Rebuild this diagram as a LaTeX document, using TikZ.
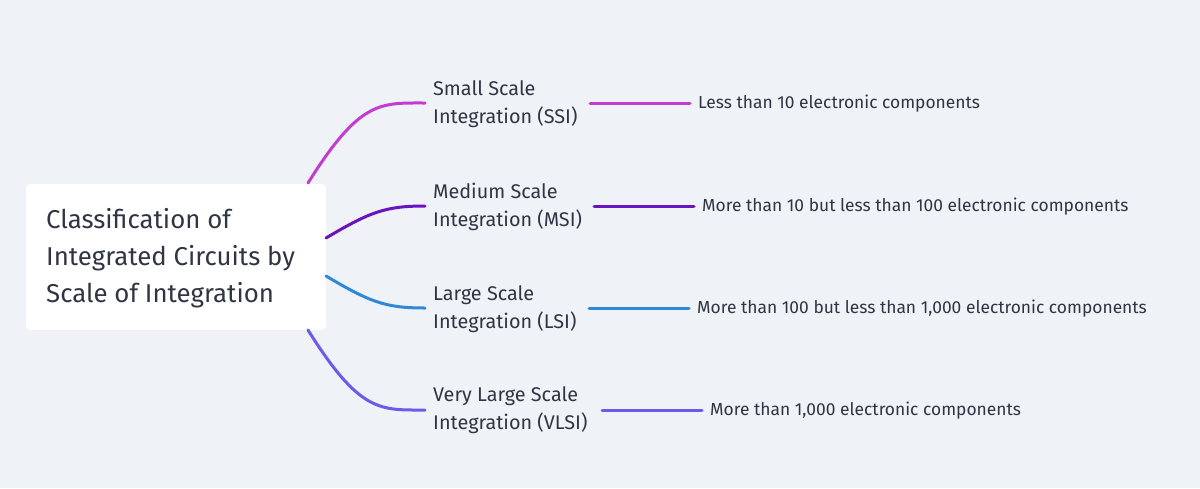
\documentclass[tikz,border=0pt]{standalone}
\usepackage{fontspec}
\setmainfont{Fira Sans}
\definecolor{bg}{HTML}{EFF2F6}
\definecolor{txt}{HTML}{2F3542}
\definecolor{cA}{HTML}{C23CD2}
\definecolor{cB}{HTML}{6914BE}
\definecolor{cC}{HTML}{2F88D6}
\definecolor{cD}{HTML}{6A5CE8}
\begin{document}
\begin{tikzpicture}[x=1pt,y=-1pt,
  br/.style={line width=3pt,line cap=round},
  mid/.style={anchor=west,align=left,text=txt,font=\fontsize{19.8}{28}\selectfont,inner sep=0pt},
  leaf/.style={anchor=west,text=txt,font=\fontsize{17.4}{18}\selectfont,inner sep=0pt}]
\fill[bg] (0,0) rectangle (1200,488);
\useasboundingbox (0,0) rectangle (1200,488);
\node[fill=white,rounded corners=4pt,minimum width=300pt,minimum height=146pt,inner sep=0pt] (root) at (176,257) {};
\node[anchor=west,align=left,text=txt,font=\fontsize{25.8}{37}\selectfont,inner sep=0pt] (rt) at (46,258) {Classification of\\Integrated Circuits by\\Scale of Integration};
\coordinate (r1) at (308,183);
\coordinate (r2) at (326,238);
\coordinate (r3) at (326,276);
\coordinate (r4) at (308,330);
\node[mid] (m1) at (433,104) {Small Scale\\Integration (SSI)};
\node[mid] (m2) at (433,207) {Medium Scale\\Integration (MSI)};
\node[mid] (m3) at (433,309) {Large Scale\\Integration (LSI)};
\node[mid] (m4) at (433,410) {Very Large Scale\\Integration (VLSI)};
\coordinate (e1) at (425,103);
\coordinate (e2) at (425,206);
\coordinate (e3) at (425,308);
\coordinate (e4) at (425,410);
\draw[br,cA] (r1) .. controls (360,100) and (380,103) .. (e1);
\draw[br,cB] (r2) .. controls (370,212) and (385,206) .. (e2);
\draw[br,cC] (r3) .. controls (370,302) and (385,308) .. (e3);
\draw[br,cD] (r4) .. controls (360,413) and (380,410) .. (e4);
\node[leaf] (l1) at (698,104) {Less than 10 electronic components};
\node[leaf] (l2) at (702,207) {More than 10 but less than 100 electronic components};
\node[leaf] (l3) at (697,309) {More than 100 but less than 1,000 electronic components};
\node[leaf] (l4) at (710,411) {More than 1,000 electronic components};
\coordinate (s1) at (590,103); \coordinate (t1) at (690,103);
\coordinate (s2) at (594,206); \coordinate (t2) at (694,206);
\coordinate (s3) at (589,308); \coordinate (t3) at (689,308);
\coordinate (s4) at (602,410); \coordinate (t4) at (702,410);
\draw[br,cA] (s1) -- (t1);
\draw[br,cB] (s2) -- (t2);
\draw[br,cC] (s3) -- (t3);
\draw[br,cD] (s4) -- (t4);
\end{tikzpicture}
\end{document}
